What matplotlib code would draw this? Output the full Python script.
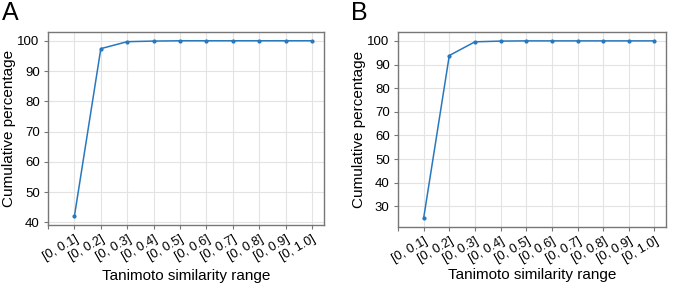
import matplotlib
matplotlib.use("Agg")
import matplotlib.pyplot as plt

plt.rcParams['font.family'] = ['Liberation Sans', 'DejaVu Sans']

ranges = ['[0, 0.1]', '[0, 0.2]', '[0, 0.3]', '[0, 0.4]', '[0, 0.5]',
          '[0, 0.6]', '[0, 0.7]', '[0, 0.8]', '[0, 0.9]', '[0, 1.0]']
cum_a = [42.0, 97.4, 99.7, 99.9, 100.0, 100.0, 100.0, 100.0, 100.0, 100.0]
cum_b = [25.0, 93.8, 99.6, 99.9, 100.0, 100.0, 100.0, 100.0, 100.0, 100.0]

fig = plt.figure(figsize=(6.73, 2.85), dpi=100)
ax_a = fig.add_axes([48/673, 1 - 225/285, 276/673, 193/285])
ax_b = fig.add_axes([398/673, 1 - 227/285, 268/673, 195/285])

xs = list(range(1, len(ranges) + 1))

for ax, vals, letter, lx, xpad in [(ax_a, cum_a, 'A', 2/673, 4),
                                   (ax_b, cum_b, 'B', 351/673, 2)]:
    ax.plot(xs, vals, color='#2878bd', lw=1.1, marker='o', ms=2)
    ax.set_xticks([0] + xs)
    ax.set_xticklabels([''] + ranges, rotation=30, ha='right',
                       rotation_mode='anchor', fontsize=9.2)
    ax.set_xlim(0, len(ranges) + 0.45)
    ax.grid(True, color='#e3e3e3', lw=0.8)
    ax.set_axisbelow(True)
    for s in ax.spines.values():
        s.set_color('#777777')
        s.set_linewidth(1.0)
    ax.tick_params(axis='both', length=3, width=0.8, color='#777777', pad=3)
    ax.tick_params(axis='y', labelsize=9.5)
    ax.set_ylabel('Cumulative percentage', fontsize=11, labelpad=1)
    ax.set_xlabel('Tanimoto similarity range', fontsize=11, labelpad=xpad)
    fig.text(lx, 0.995, letter, fontsize=18, va='top', ha='left')

ax_a.set_yticks([40, 50, 60, 70, 80, 90, 100])
ax_b.set_yticks([30, 40, 50, 60, 70, 80, 90, 100])

fig.savefig('out.png', dpi=100)
